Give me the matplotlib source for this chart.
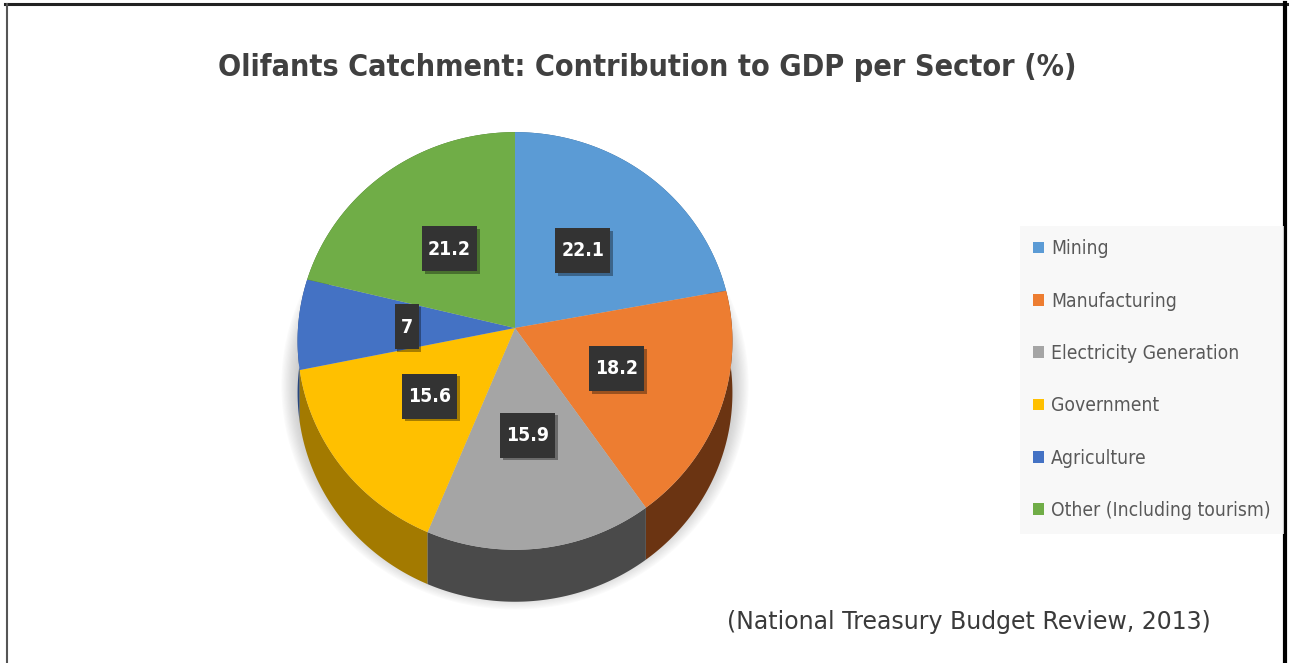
import numpy as np
import matplotlib.pyplot as plt
from matplotlib.patches import Polygon, Patch, Rectangle
from matplotlib.lines import Line2D
from matplotlib import patheffects as pe
from matplotlib import font_manager as fm

sectors = ["Mining", "Manufacturing", "Electricity Generation",
           "Government", "Agriculture", "Other (Including tourism)"]
shares = [22.1, 18.2, 15.9, 15.6, 7, 21.2]

top_colors = ["#5b9bd5", "#ed7d31", "#a5a5a5", "#ffc000", "#4472c4", "#70ad47"]
side_colors = ["#2f5f8c", "#6b3412", "#4a4a4a", "#a37a00", "#27467e", "#44702a"]

title = "Olifants Catchment: Contribution to GDP per Sector (%)"
source = "(National Treasury Budget Review, 2013)"

# pie geometry (pixels)
cx, cy = 515, 328
rx, ry = 217, 208
persp = 0.062
depth = 52


def pick_narrow():
    # the reference uses a condensed face; take whatever narrow face is installed
    for fam, stretch in [("Liberation Sans Narrow", "normal"),
                         ("DejaVu Sans", "condensed")]:
        try:
            path = fm.findfont(fm.FontProperties(family=fam, stretch=stretch),
                               fallback_to_default=False)
        except ValueError:
            continue
        if "Narrow" in path or "Condensed" in path:
            return fam, stretch
    return "DejaVu Sans", "normal"


nfam, nstretch = pick_narrow()


def proj(theta, r=1.0):
    # theta measured clockwise from 12 o'clock, slight perspective tilt
    u = r * np.sin(theta)
    v = -r * np.cos(theta)
    w = 1 - persp * v
    return cx + rx * u / w, cy + ry * v / w


fig = plt.figure(figsize=(12.9, 6.63), dpi=100)
ax = fig.add_axes([0, 0, 1, 1])
ax.set_xlim(0, 1290)
ax.set_ylim(663, 0)
ax.axis("off")
renderer = fig.canvas.get_renderer()


def fit(txt, target_px):
    w = txt.get_window_extent(renderer).width
    txt.set_fontsize(txt.get_fontsize() * target_px / w)
    return txt.get_fontsize()


bounds = np.concatenate([[0], np.cumsum(shares)]) / np.sum(shares) * 2 * np.pi

# soft shadow under the pie
th = np.linspace(0, 2 * np.pi, 400)
sx, sy = proj(th)
ecx, ecy = cx, (sy.min() + sy.max()) / 2
for grow in np.linspace(0, 16, 14):
    f = 1 + grow / 215
    px = ecx + (sx - ecx) * f
    py = ecy + (sy - ecy) * f + depth * 0.85
    ax.add_patch(Polygon(np.column_stack([px, py]), closed=True,
                         fc="#8a8a8a", ec="none", alpha=0.035, zorder=0))

# side walls, back to front
order = np.argsort([-np.cos((bounds[i] + bounds[i + 1]) / 2) for i in range(len(shares))])
for i in order:
    t = np.linspace(bounds[i], bounds[i + 1], 120)
    x, y = proj(t)
    pts = np.column_stack([np.r_[x, x[::-1]], np.r_[y, y[::-1] + depth]])
    ax.add_patch(Polygon(pts, closed=True, fc=side_colors[i], ec="none", zorder=1))

# top faces
handles = []
for i in range(len(shares)):
    t = np.linspace(bounds[i], bounds[i + 1], 120)
    x, y = proj(t)
    pts = np.column_stack([np.r_[cx, x], np.r_[cy, y]])
    ax.add_patch(Polygon(pts, closed=True, fc=top_colors[i], ec="none", zorder=3))
    handles.append(Patch(fc=top_colors[i], ec="none", label=sectors[i]))

# data labels in dark boxes
probe = ax.text(0, 0, "22.1", fontsize=17, fontweight="bold", family=nfam, stretch=nstretch)
lab_size = min(21, fit(probe, 43))
probe.remove()
shadow = [pe.SimplePatchShadow(offset=(2, -2), shadow_rgbFace="#000000", alpha=0.35),
          pe.Normal()]
for i, val in enumerate(shares):
    mid = (bounds[i] + bounds[i + 1]) / 2
    lx, ly = proj(mid, 0.5)
    t = ax.text(lx, ly + 1, f"{val:g}", ha="center", va="center", color="white",
                fontsize=lab_size, fontweight="bold", family=nfam, stretch=nstretch,
                zorder=6)
    w = t.get_window_extent(renderer).width + 12
    box = Rectangle((lx - w / 2, ly - 22), w, 45, fc="#333333", ec="none", zorder=5)
    box.set_path_effects(shadow)
    ax.add_patch(box)

tt = fig.text(0.502, 1 - 67 / 663, title, ha="center", va="center", fontsize=30,
              fontweight="bold", family=nfam, stretch=nstretch, color="#404040")
fit(tt, 860)

probe = fig.text(0, 0, sectors[-1], fontsize=15, family=nfam, stretch=nstretch)
leg_size = min(15.5, fit(probe, 220))
probe.remove()
size_px = leg_size * 100 / 72

leg = fig.legend(handles=handles, loc="upper left",
                 bbox_to_anchor=(1020 / 1290, 1 - 226 / 663),
                 frameon=True, fancybox=False,
                 prop={"family": nfam, "stretch": nstretch, "size": leg_size},
                 labelcolor="#595959", handlelength=0.55, handleheight=0.55,
                 handletextpad=0.35, labelspacing=52 / size_px - 0.97,
                 borderpad=0.7, borderaxespad=0)
leg.get_frame().set_facecolor("#f7f7f7")
leg.get_frame().set_edgecolor("none")

fig.text(727 / 1290, 1 - 622 / 663, source, ha="left", va="center",
         fontsize=17, family="DejaVu Sans", color="#3a3a3a")

# picture frame
fig.add_artist(Line2D([5, 1287], [659, 659], transform=None, color="#222222", lw=2.2))
fig.add_artist(Line2D([7, 7], [0, 659], transform=None, color="#555555", lw=1.5))
fig.add_artist(Line2D([1285, 1285], [0, 660], transform=None, color="#000000", lw=3))

fig.savefig("out.png", dpi=100)
